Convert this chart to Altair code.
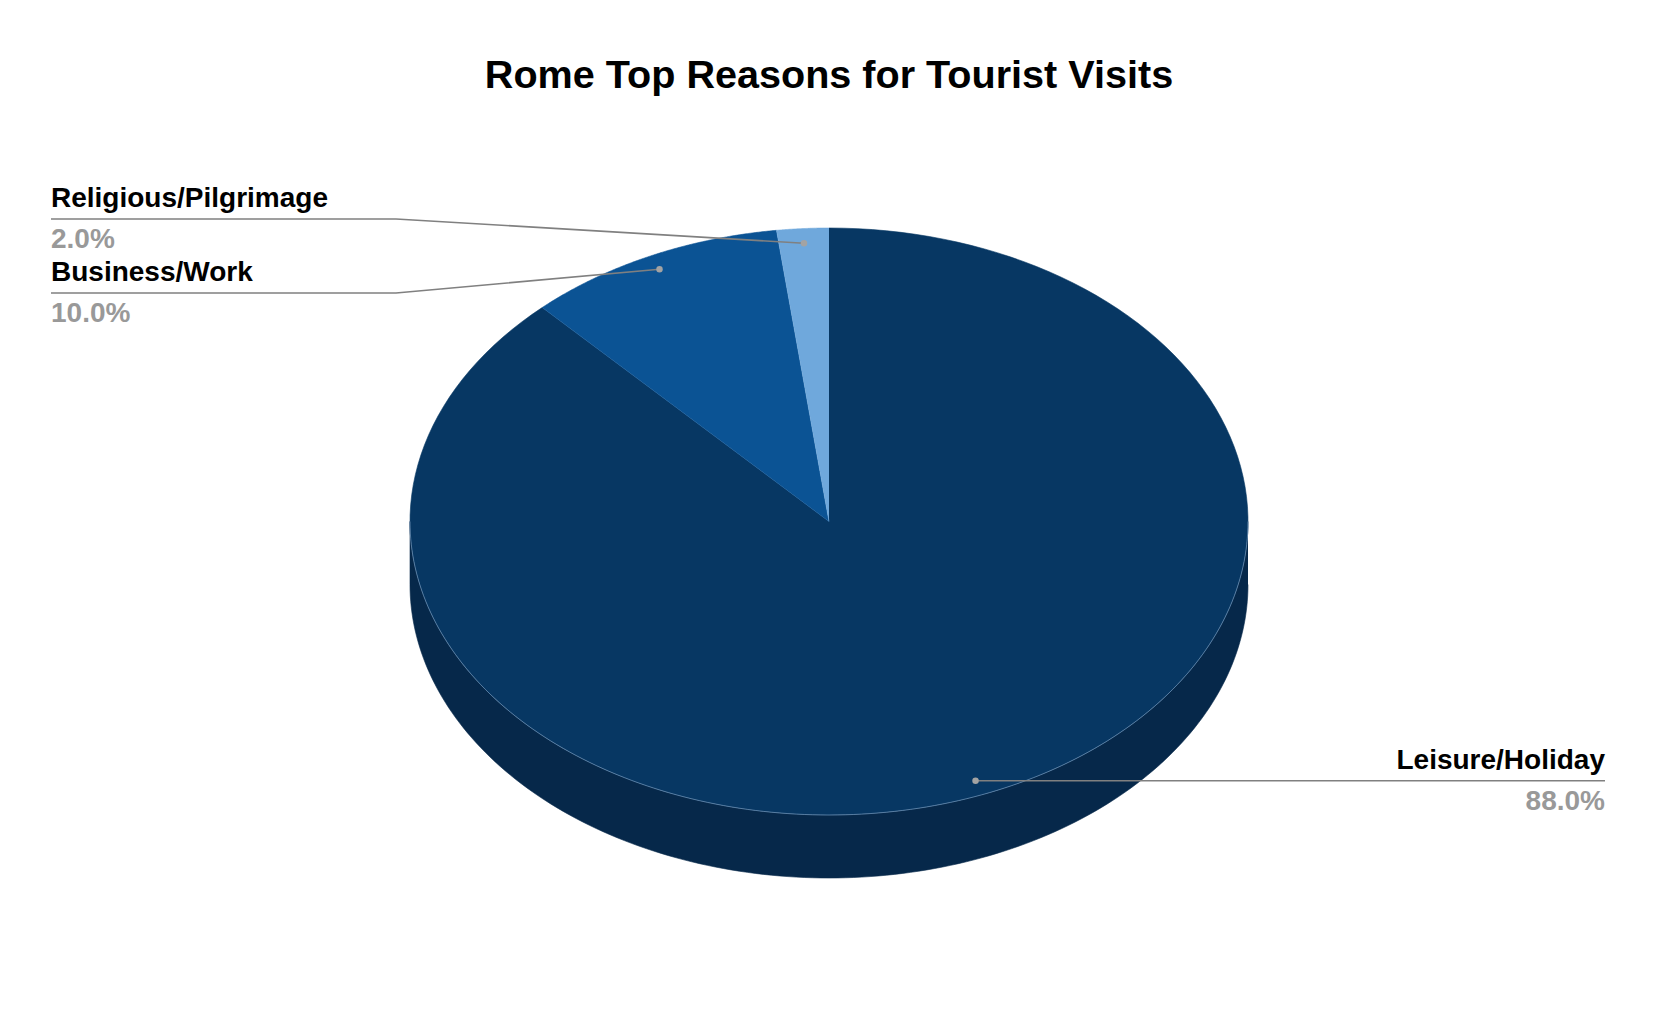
import altair as alt
import pandas as pd

# ---- data ----
CATEGORIES = ["Leisure/Holiday", "Business/Work", "Religious/Pilgrimage"]
VALUES = [88.0, 10.0, 2.0]

# ---- styles ----
TOP_COLORS = ["#073763", "#0b5394", "#6fa8dc"]
SIDE_COLORS = ["#06284a", "#083f70", "#4f7fa8"]
FONT = "Liberation Sans"

# ---- layout (page pixel units) ----
W, H, PAD_TOP = 1642, 898, 110
CX, CY, RX, RY, DEPTH = 829, 521.5, 419, 293.5, 63
DOT_R = 0.95
LABEL_SIDE = ["right", "left", "left"]
LABEL_X = [1605, 51, 51]
LABEL_LINE_Y = [None, 293, 219]
ELBOW_X = [None, 396, 396]

df = pd.DataFrame({"cat": CATEGORIES, "value": VALUES, "idx": list(range(len(CATEGORIES)))})
lab = df.assign(side=LABEL_SIDE, label_x=LABEL_X, line_y=LABEL_LINE_Y, elbow_x=ELBOW_X)

xs = alt.Scale(domain=[8, 8 + W], nice=False, zero=False)
ys = alt.Scale(domain=[8 + PAD_TOP, 8 + PAD_TOP + H], reverse=True, nice=False, zero=False)
top_scale = alt.Scale(domain=CATEGORIES, range=TOP_COLORS)
side_scale = alt.Scale(domain=CATEGORIES, range=SIDE_COLORS)


def cumul(ch):
    return (ch.transform_joinaggregate(total="sum(value)")
            .transform_window(cum="sum(value)", sort=[alt.SortField("idx")])
            .transform_calculate(a0="(datum.cum - datum.value) / datum.total * 2 * PI",
                                 a1="datum.cum / datum.total * 2 * PI"))


N = 160
# side wall (visible front half)
side = (cumul(alt.Chart(df))
        .transform_calculate(s0="max(datum.a0, PI / 2)", s1="min(datum.a1, 3 * PI / 2)")
        .transform_filter("datum.s1 > datum.s0")
        .transform_calculate(ks=f"sequence(0, {2 * N + 2})")
        .transform_flatten(["ks"], as_=["k"])
        .transform_calculate(j=f"datum.k <= {N} ? datum.k : {2 * N + 1} - datum.k")
        .transform_calculate(t=f"datum.s0 + (datum.s1 - datum.s0) * datum.j / {N}")
        .transform_calculate(
            px=f"{CX} + {RX} * sin(datum.t)",
            py=f"{CY} - {RY} * cos(datum.t) + (datum.k > {N} ? {DEPTH} : 0)",
        )
        .mark_line(strokeWidth=0.6, strokeJoin="round")
        .encode(x=alt.X("px:Q", scale=xs, axis=None), y=alt.Y("py:Q", scale=ys, axis=None),
                order="k:Q", detail="cat:N",
                fill=alt.Fill("cat:N", scale=side_scale, legend=None),
                stroke=alt.Stroke("cat:N", scale=side_scale, legend=None)))

# top face slices
top = (cumul(alt.Chart(df))
       .transform_calculate(ks=f"sequence(-1, {N + 1})")
       .transform_flatten(["ks"], as_=["k"])
       .transform_calculate(t=f"datum.a0 + (datum.a1 - datum.a0) * max(datum.k, 0) / {N}")
       .transform_calculate(
           px=f"datum.k < 0 ? {CX} : {CX} + {RX} * sin(datum.t)",
           py=f"datum.k < 0 ? {CY} : {CY} - {RY} * cos(datum.t)",
       )
       .mark_line(strokeWidth=0.6, strokeJoin="round")
       .encode(x=alt.X("px:Q", scale=xs, axis=None), y=alt.Y("py:Q", scale=ys, axis=None),
               order="k:Q", detail="cat:N",
               fill=alt.Fill("cat:N", scale=top_scale, legend=None),
               stroke=alt.Stroke("cat:N", scale=top_scale, legend=None)))

# light rim along the front edge of the top face
rim = (cumul(alt.Chart(df))
       .transform_calculate(s0="max(datum.a0, PI / 2)", s1="min(datum.a1, 3 * PI / 2)")
       .transform_filter("datum.s1 > datum.s0")
       .transform_calculate(ks=f"sequence(0, {N + 1})")
       .transform_flatten(["ks"], as_=["k"])
       .transform_calculate(t=f"datum.s0 + (datum.s1 - datum.s0) * datum.k / {N}")
       .transform_calculate(px=f"{CX} + {RX} * sin(datum.t)", py=f"{CY} - {RY} * cos(datum.t)")
       .mark_line(stroke="#8fb1d3", strokeWidth=1, opacity=0.55)
       .encode(x=alt.X("px:Q", scale=xs, axis=None), y=alt.Y("py:Q", scale=ys, axis=None),
               order="k:Q", detail="cat:N"))

# labels
lbase = (cumul(alt.Chart(lab))
         .transform_calculate(mid="(datum.a0 + datum.a1) / 2",
                              pct="format(datum.value / datum.total, '.1%')")
         .transform_calculate(dx=f"{CX} + {DOT_R} * {RX} * sin(datum.mid)",
                              dy=f"{CY} - {DOT_R} * {RY} * cos(datum.mid)")
         .transform_calculate(ly="isValid(datum.line_y) ? datum.line_y : datum.dy",
                              ex="isValid(datum.elbow_x) ? datum.elbow_x : datum.dx")
         .transform_calculate(ny="datum.ly - 12", py2="datum.ly + 29"))

leader = (lbase.transform_calculate(ks="sequence(0, 3)")
          .transform_flatten(["ks"], as_=["k"])
          .transform_calculate(lx="datum.k == 0 ? datum.label_x : (datum.k == 1 ? datum.ex : datum.dx)",
                               lyy="datum.k == 2 ? datum.dy : datum.ly")
          .mark_line(stroke="#808080", strokeWidth=1.6)
          .encode(x=alt.X("lx:Q", scale=xs, axis=None), y=alt.Y("lyy:Q", scale=ys, axis=None),
                  order="k:Q", detail="cat:N"))

dots = (lbase.mark_circle(size=42, color="#a3a3a3", opacity=1)
        .encode(x=alt.X("dx:Q", scale=xs, axis=None), y=alt.Y("dy:Q", scale=ys, axis=None)))

texts = []
for sd, al in (("left", "left"), ("right", "right")):
    b = lbase.transform_filter(f"datum.side == '{sd}'")
    texts.append(b.mark_text(align=al, baseline="alphabetic", font=FONT, fontSize=28,
                             fontWeight="bold", color="#000000")
                 .encode(x=alt.X("label_x:Q", scale=xs, axis=None),
                         y=alt.Y("ny:Q", scale=ys, axis=None), text="cat:N"))
    texts.append(b.mark_text(align=al, baseline="alphabetic", font=FONT, fontSize=28,
                             fontWeight="bold", color="#999999")
                 .encode(x=alt.X("label_x:Q", scale=xs, axis=None),
                         y=alt.Y("py2:Q", scale=ys, axis=None), text="pct:N"))

chart = (alt.layer(side, top, rim, leader, dots, *texts)
         .resolve_scale(fill="independent", stroke="independent")
         .properties(
             width=W, height=H,
             background="#ffffff",
             title=alt.Title("Rome Top Reasons for Tourist Visits", font=FONT, fontSize=39.6,
                             fontWeight="bold", color="#000000", anchor="middle",
                             baseline="alphabetic", offset=39, dy=49),
             autosize=alt.AutoSizeParams(type="none"),
             padding={"left": 0, "top": PAD_TOP, "right": 0, "bottom": 0},
         )
         .configure_view(stroke="transparent", strokeWidth=0))

chart.save("out.html", embed_options={"renderer": "svg", "actions": False})
